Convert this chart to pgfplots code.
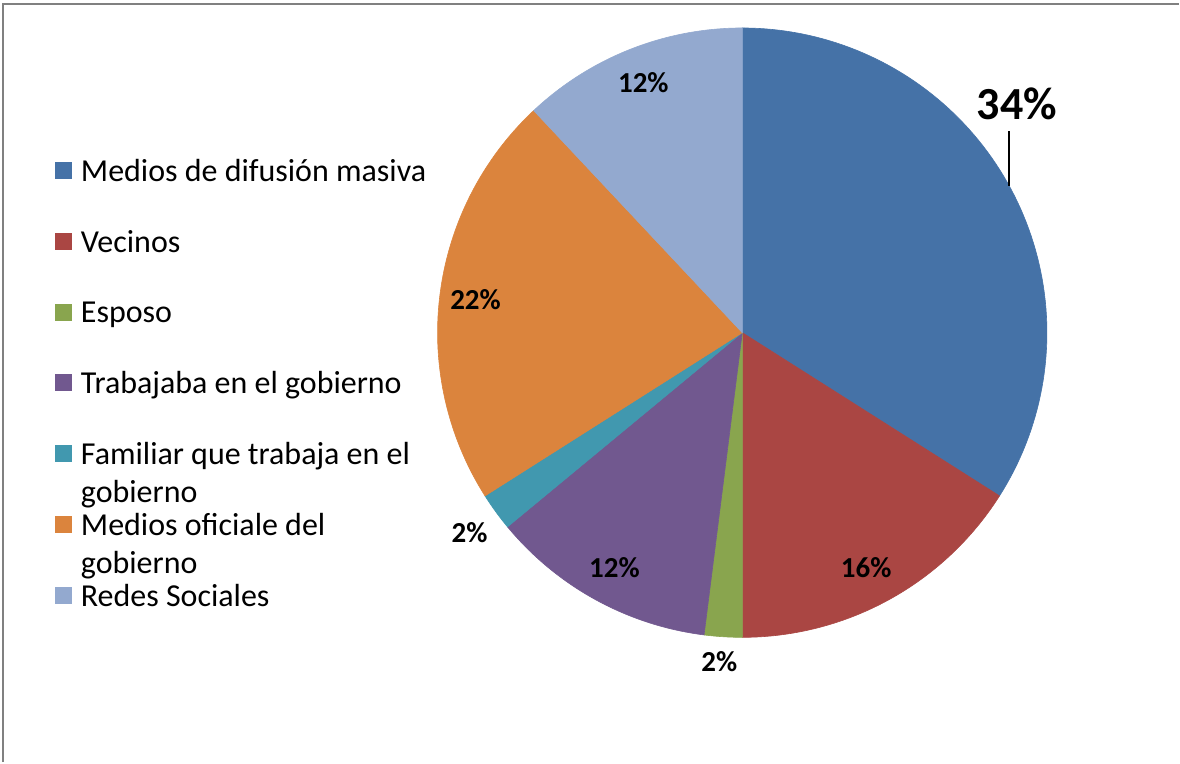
\documentclass[border=0pt]{standalone}
\usepackage{pgfplots}
\usepackage{pgfplotstable}
\pgfplotsset{compat=1.18}
\usepackage{fontspec}
\setmainfont{Carlito}

\definecolor{slice0}{HTML}{4572A7}
\definecolor{slice1}{HTML}{AA4643}
\definecolor{slice2}{HTML}{89A54E}
\definecolor{slice3}{HTML}{71588F}
\definecolor{slice4}{HTML}{4198AF}
\definecolor{slice5}{HTML}{DB843D}
\definecolor{slice6}{HTML}{93A9CF}

% shares in percent, clockwise from 12 o'clock
\pgfplotstableread{
pct
34
16
2
12
2
22
12
}\pietable
\pgfplotstablecreatecol[create col/expr accum={\pgfmathaccuma+\thisrow{pct}}{0}]{cum}\pietable

\newcommand{\twoline}[2]{\smash{\begin{tabular}[t]{@{}l@{}}#1\\#2\end{tabular}}}

\begin{document}
\begin{tikzpicture}
\path (0,0) rectangle (590pt,381.5pt);
\begin{axis}[
    scale only axis, width=590pt, height=381.5pt,
    xmin=0, xmax=1180, ymin=0, ymax=763,
    hide axis, clip=false,
    legend entries={Medios de difusión masiva, Vecinos, Esposo,
        Trabajaba en el gobierno,
        {\twoline{Familiar que trabaja en el}{gobierno}},
        {\twoline{Medios oficiale del}{gobierno}},
        Redes Sociales},
    legend image code/.code={\fill[#1] (0pt,-2.5pt) rectangle (8pt,5.5pt);},
    legend cell align={left},
    legend style={at={(axis cs:55,604)}, anchor=north west, draw=none, fill=none,
        font=\fontsize{16}{19}\selectfont, row sep=21.45pt, inner sep=0pt,
        nodes={inner sep=0pt, text height=11pt, text depth=3pt},
        column sep=4.5pt},
]
\pgfplotsinvokeforeach{0,...,6}{
  \pgfplotstablegetelem{#1}{cum}\of\pietable
  \pgfmathsetmacro\aend{90-3.6*\pgfplotsretval}
  \pgfplotstablegetelem{#1}{pct}\of\pietable
  \pgfmathsetmacro\astart{\aend+3.6*\pgfplotsretval}
  \edef\doslice{\noexpand\addplot[fill=slice#1, draw=slice#1, line width=0.3pt,
      domain=\aend:\astart, samples=90]
      ({743+305*cos(x)},{430+305*sin(x)}) -- (axis cs:743,430) -- cycle;}
  \doslice
}
% leader line of the big label
\addplot[black, line width=0.6pt, forget plot] coordinates {(1010,577) (1010,632)};

\begin{scope}[font=\bfseries\fontsize{14.5}{17}\selectfont]
\node at (axis cs:867,195) {16\%};
\node at (axis cs:720,101) {2\%};
\node at (axis cs:615,195) {12\%};
\node at (axis cs:470,230) {2\%};
\node at (axis cs:476,463) {22\%};
\node at (axis cs:644,680) {12\%};
\end{scope}
\node[font=\bfseries\fontsize{23}{26}\selectfont] at (axis cs:1018,659) {34\%};

\draw[gray, line width=1.2pt] (axis cs:3,0) -- (axis cs:3,759) -- (axis cs:1180,759);
\end{axis}
\end{tikzpicture}
\end{document}
